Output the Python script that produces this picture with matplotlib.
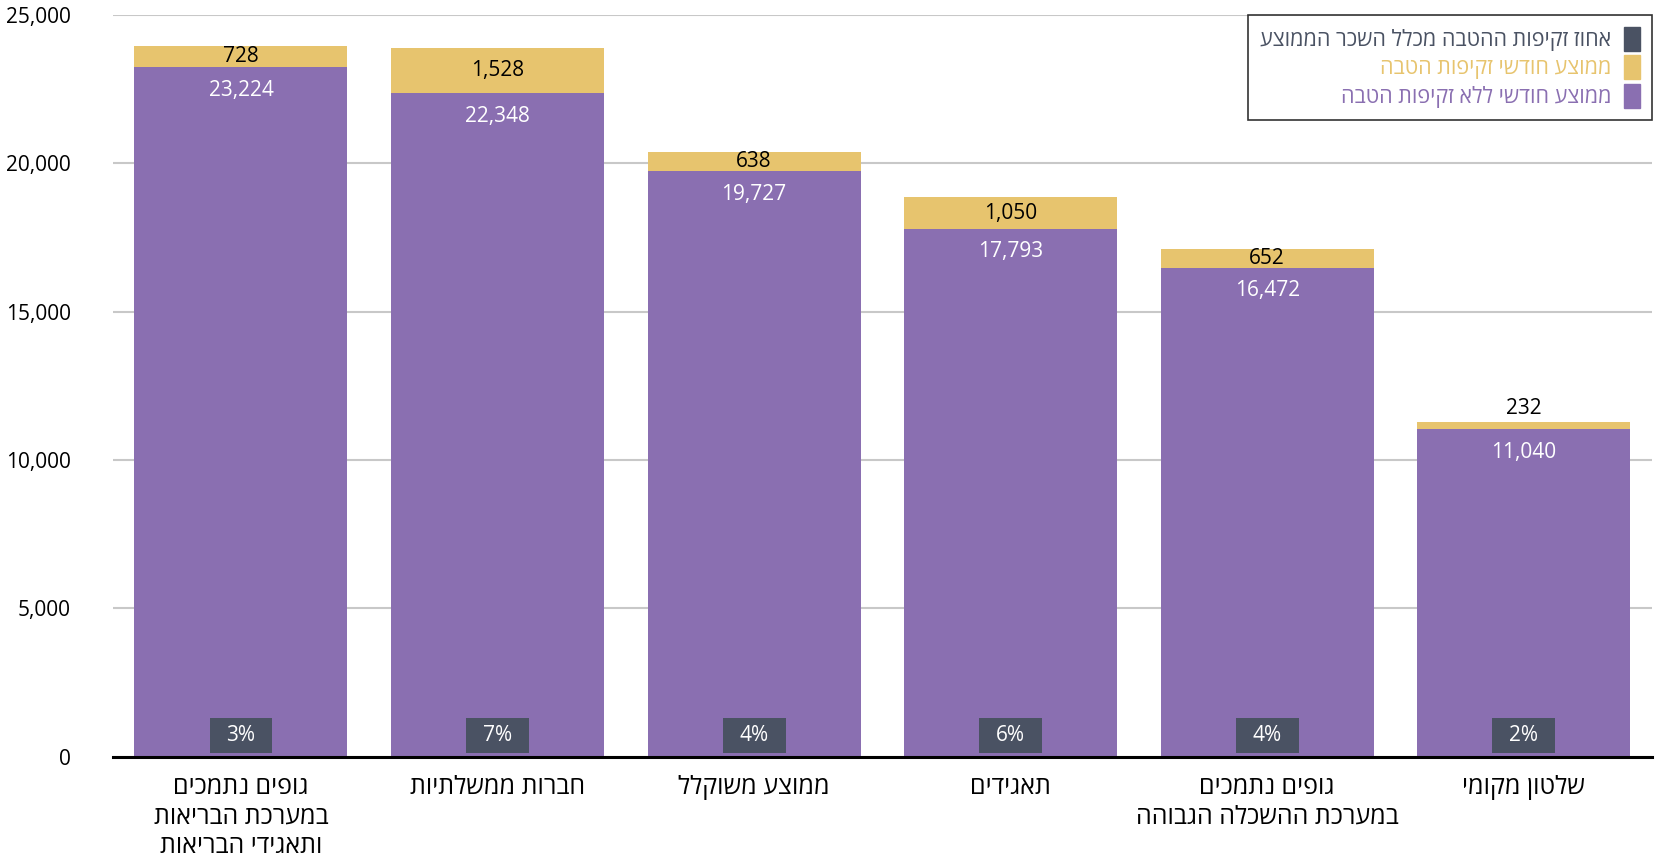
import matplotlib.pyplot as plt
from matplotlib.patches import Patch

plt.rcParams['font.family'] = ['Open Sans', 'DejaVu Sans']

# data
categories = ["גופים נתמכים\nבמערכת הבריאות\nותאגידי הבריאות",
              "חברות ממשלתיות",
              "ממוצע משוקלל",
              "תאגידים",
              "גופים נתמכים\nבמערכת ההשכלה הגבוהה",
              "שלטון מקומי"]
base_pay = [23224, 22348, 19727, 17793, 16472, 11040]
benefit = [728, 1528, 638, 1050, 652, 232]
benefit_pct = [3, 7, 4, 6, 4, 2]
legend_labels = ["אחוז זקיפות ההטבה מכלל השכר הממוצע",
                 "ממוצע חודשי זקיפות הטבה",
                 "ממוצע חודשי ללא זקיפות הטבה"]

PURPLE = '#8a6fb1'
GOLD = '#e7c46e'
DARK = '#4a5263'


def rtl(s):
    # matplotlib has no bidi support, flip each line for display
    return '\n'.join(line[::-1] for line in s.split('\n'))


fig = plt.figure(figsize=(16.57, 8.64), dpi=100)
ax = fig.add_axes([0.068, 0.124, 0.929, 0.859])

x = list(range(len(categories)))
w = 0.83
ax.bar(x, base_pay, width=w, color=PURPLE, zorder=2)
ax.bar(x, benefit, width=w, bottom=base_pay, color=GOLD, zorder=2)
# little dark boxes holding the percentage
ax.bar(x, [1175] * len(x), width=0.245, bottom=140, color=DARK, zorder=3)

for i in x:
    top = base_pay[i] + benefit[i]
    ax.annotate(f"{base_pay[i]:,}", (i, base_pay[i]), xytext=(0, -9),
                textcoords='offset points', ha='center', va='top',
                color='white', fontsize=15, zorder=4)
    if benefit[i] > 500:
        ax.text(i, base_pay[i] + benefit[i] / 2, f"{benefit[i]:,}",
                ha='center', va='center', color='black', fontsize=15, zorder=4)
    else:
        ax.annotate(f"{benefit[i]:,}", (i, top), xytext=(0, 2),
                    textcoords='offset points', ha='center', va='bottom',
                    color='black', fontsize=15, zorder=4)
    ax.text(i, 727, f"{benefit_pct[i]}%", ha='center', va='center',
            color='white', fontsize=15, zorder=4)

ax.set_xlim(-0.5, 5.5)
ax.set_ylim(0, 25000)
ax.set_yticks(range(0, 25001, 5000))
ax.set_yticklabels([f"{v:,}" for v in range(0, 25001, 5000)], fontsize=15)
ax.set_xticks(x)
ax.set_xticklabels([rtl(c) for c in categories], fontsize=18, linespacing=1.25)
ax.tick_params(axis='both', length=0)
ax.tick_params(axis='x', pad=13)
ax.tick_params(axis='y', pad=30)
ax.grid(axis='y', color='#c8c8c8', linewidth=1.5, zorder=0)
for s in ['top', 'right', 'left']:
    ax.spines[s].set_visible(False)
ax.spines['bottom'].set_linewidth(2.2)
ax.spines['bottom'].set_zorder(3)

handles = [Patch(color=DARK), Patch(color=GOLD), Patch(color=PURPLE)]
leg = ax.legend(handles, [rtl(l) for l in legend_labels], loc='upper right',
                bbox_to_anchor=(1.0, 1.0), borderaxespad=0, markerfirst=False,
                prop={'size': 15.5},
                frameon=True, fancybox=False, edgecolor='black',
                handlelength=0.75, handleheight=1.35, handletextpad=0.6,
                labelspacing=0.2, borderpad=0.55)
leg.get_frame().set_linewidth(1.2)
for t, c in zip(leg.get_texts(), [DARK, GOLD, PURPLE]):
    t.set_color(c)

fig.savefig('out.png', dpi=100)
